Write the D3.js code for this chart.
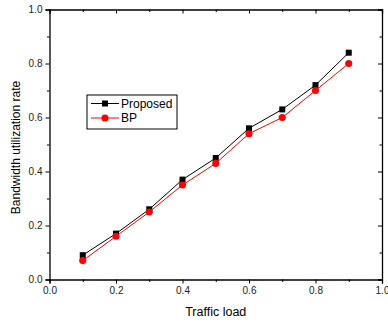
<!DOCTYPE html>
<head>
<meta charset="utf-8">
<script src="https://d3js.org/d3.v7.min.js"></script>
<style>
  body { margin: 0; background: #fff; }
  #chart { display: block; font-family: "Liberation Sans", Arial, sans-serif; }
  .tick text { fill: #222; font-size: 10px; }
  .domain, .tick line { stroke: #000; }
</style>
</head>
<body>
<svg id="chart"></svg>
<script>
  var loads = [0.1, 0.2, 0.3, 0.4, 0.5, 0.6, 0.7, 0.8, 0.9];
  var proposed = [0.09, 0.17, 0.26, 0.37, 0.45, 0.56, 0.63, 0.72, 0.84];
  var bp = [0.07, 0.16, 0.25, 0.35, 0.43, 0.54, 0.60, 0.70, 0.80];
  var majorTicks = [0, 0.2, 0.4, 0.6, 0.8, 1.0];
  var minorTicks = [0.1, 0.3, 0.5, 0.7, 0.9];

  var margin = {top: 9.5, right: 6, bottom: 42.5, left: 49.5},
      width = 388 - margin.left - margin.right,
      height = 322 - margin.top - margin.bottom;

  var svg = d3.select("#chart")
      .attr("width", 388)
      .attr("height", 322)
    .append("g")
      .attr("transform", "translate(" + margin.left + "," + margin.top + ")");

  var x = d3.scaleLinear().domain([0, 1]).range([0, width]),
      y = d3.scaleLinear().domain([0, 1]).range([height, 0]);

  // frame: bottom/left ticks outward, top/right ticks inward
  svg.append("g")
      .attr("transform", "translate(0," + height + ")")
      .call(d3.axisBottom(x).tickValues(majorTicks).tickFormat(d3.format(".1f")).tickSizeOuter(0).tickSize(4).tickPadding(3));
  svg.append("g")
      .attr("transform", "translate(0," + height + ")")
      .call(d3.axisBottom(x).tickValues(minorTicks).tickFormat("").tickSizeOuter(0).tickSize(2.5))
      .select(".domain").remove();
  svg.append("g")
      .call(d3.axisLeft(y).tickValues(majorTicks).tickFormat(d3.format(".1f")).tickSizeOuter(0).tickSize(4).tickPadding(3));
  svg.append("g")
      .call(d3.axisLeft(y).tickValues(minorTicks).tickFormat("").tickSizeOuter(0).tickSize(2.5))
      .select(".domain").remove();
  svg.append("g")
      .call(d3.axisBottom(x).tickValues(majorTicks).tickFormat("").tickSizeOuter(0).tickSize(4));
  svg.append("g")
      .call(d3.axisBottom(x).tickValues(minorTicks).tickFormat("").tickSizeOuter(0).tickSize(2.5))
      .select(".domain").remove();
  svg.append("g")
      .attr("transform", "translate(" + width + ",0)")
      .call(d3.axisLeft(y).tickValues(majorTicks).tickFormat("").tickSizeOuter(0).tickSize(4))
      .selectAll(".tick line").attr("x2", -4);
  svg.append("g")
      .attr("transform", "translate(" + width + ",0)")
      .call(d3.axisLeft(y).tickValues(minorTicks).tickFormat("").tickSizeOuter(0))
      .call(g => g.select(".domain").remove())
      .selectAll(".tick line").attr("x2", -2.5);
  svg.selectAll(".domain").attr("stroke-width", 1.3);

  var series = [
    {name: "Proposed", values: proposed, color: "#000", shape: "square"},
    {name: "BP", values: bp, color: "#ff0000", shape: "circle"}
  ];

  var line = d3.line()
      .x((d, i) => x(loads[i]))
      .y(d => y(d));

  series.forEach(s => {
    svg.append("path")
        .datum(s.values)
        .attr("fill", "none")
        .attr("stroke", s.color)
        .attr("stroke-width", 1)
        .attr("d", line);
    var sym = d3.symbol().type(s.shape == "square" ? d3.symbolSquare : d3.symbolCircle)
        .size(s.shape == "square" ? 36 : 40);
    svg.selectAll(".pt-" + s.name)
        .data(s.values)
      .enter().append("path")
        .attr("transform", (d, i) => "translate(" + x(loads[i]) + "," + y(d) + ")")
        .attr("d", sym)
        .attr("fill", s.color);
  });

  // legend
  var legend = svg.append("g").attr("transform", "translate(37.5,85.5)");
  legend.append("rect")
      .attr("width", 90).attr("height", 34)
      .attr("fill", "#fff").attr("stroke", "#000").attr("stroke-width", 1);
  series.forEach((s, i) => {
    var row = legend.append("g").attr("transform", "translate(0," + (8.5 + i * 14.5) + ")");
    row.append("line").attr("x1", 4).attr("x2", 32).attr("stroke", s.color);
    row.append("path")
        .attr("transform", "translate(18,0)")
        .attr("d", d3.symbol().type(s.shape == "square" ? d3.symbolSquare : d3.symbolCircle).size(s.shape == "square" ? 36 : 40))
        .attr("fill", s.color);
    row.append("text")
        .attr("x", 34).attr("dy", "0.35em")
        .attr("font-size", 12).attr("fill", "#000")
        .text(s.name);
  });

  svg.append("text")
      .attr("x", width / 2).attr("y", height + 36)
      .attr("text-anchor", "middle").attr("font-size", 12.5)
      .text("Traffic load");
  svg.append("text")
      .attr("transform", "translate(-29.5," + (height / 2 + 3) + ") rotate(-90)")
      .attr("text-anchor", "middle").attr("font-size", 12)
      .text("Bandwidth utilization rate");
</script>
</body>
